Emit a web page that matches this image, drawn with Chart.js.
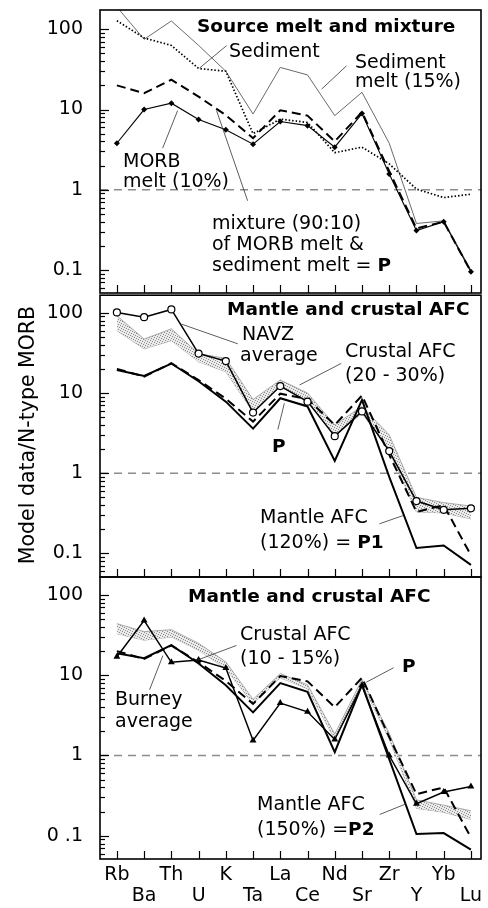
<!DOCTYPE html>
<html>
<head>
<meta charset="utf-8">
<script src="https://cdn.jsdelivr.net/npm/chart.js@4.4.0/dist/chart.umd.min.js"></script>
<style>
  body { margin: 0; background: #fff; width: 488px; height: 908px; position: relative; overflow: hidden; }
  canvas { position: absolute; left: 0; }
</style>
</head>
<body>
<canvas id="c1" style="top:0px" width="488" height="300"></canvas>
<canvas id="c2" style="top:290px" width="488" height="300"></canvas>
<canvas id="c3" style="top:570px" width="488" height="338"></canvas>
<script>
// element order along the x axis
const elements = ['Rb', 'Ba', 'Th', 'U', 'K', 'Ta', 'La', 'Ce', 'Nd', 'Sr', 'Zr', 'Y', 'Yb', 'Lu'];

// panel 1 - source melt and mixture
const sediment     = [190, 75, 127, 63, 30, 8.8, 33.5, 27, 8.4, 16.4, 3.8, 0.38, 0.41, 0.1];
const sedimentMelt = [128, 78, 63, 32.5, 30, 5.0, 7.6, 6.9, 2.9, 3.4, 2.1, 1.02, 0.8, 0.88];
const morbMelt     = [3.8, 10, 12, 7.5, 5.6, 3.7, 7.1, 6.3, 3.4, 8.9, 1.57, 0.31, 0.40, 0.095];
const mixtureP     = [20, 16, 23.5, 14.5, 8.5, 4.4, 9.8, 8.4, 4.0, 9.3, 1.7, 0.33, 0.4, 0.095];

// panel 2 - NAVZ
const navz       = [101, 88, 110, 31, 25, 5.7, 12.2, 7.8, 2.9, 5.9, 1.89, 0.45, 0.35, 0.365];
const crustHi20  = [92, 47, 63, 31, 27, 8.3, 14.5, 10, 4.0, 6.8, 3.0, 0.5, 0.43, 0.39];
const crustLo30  = [60, 35.5, 45, 24.5, 18.4, 5.8, 12, 8.2, 2.9, 5.6, 1.9, 0.33, 0.32, 0.27];
const mantleP1   = [19.3, 16.3, 23.3, 14, 7.8, 3.6, 8.6, 6.8, 1.42, 8.2, 0.9, 0.117, 0.126, 0.072];

// panel 3 - Burney
const burney     = [17, 48, 14.5, 15.5, 12.3, 1.54, 4.5, 3.5, 1.58, 7.5, 1.0, 0.25, 0.35, 0.41];
const crustHi10  = [44, 35, 37, 25, 14.7, 5.0, 10.5, 7.6, 1.85, 8.9, 1.9, 0.28, 0.24, 0.205];
const crustLo15  = [33, 27.4, 30, 20.5, 12.1, 4.4, 9.3, 6.8, 1.6, 7.9, 1.6, 0.22, 0.196, 0.16];
const mantleP2   = [18.8, 16.3, 23.7, 14, 7.5, 3.45, 8.0, 6.2, 1.1, 7.6, 0.9, 0.105, 0.108, 0.067];

const yTickValues = [0.1, 1, 10, 100];
const yTickLabels = ['0.1', '1', '10', '100'];
const yTickLabels3 = ['0 .1', '1', '10', '100'];

const FONT = '"DejaVu Sans", sans-serif';

// grey stipple used for the crustal AFC bands
function stipple() {
  const c = document.createElement('canvas');
  c.width = 5; c.height = 5;
  const g = c.getContext('2d');
  g.fillStyle = '#eaeaea';
  g.fillRect(0, 0, 5, 5);
  g.fillStyle = '#8c8c8c';
  [[0, 0], [2, 1], [4, 2], [1, 3], [3, 4]].forEach(([x, y]) => g.fillRect(x, y, 1, 1));
  return g.createPattern(c, 'repeat');
}
const bandFill = stipple();

const pts = arr => arr.map((v, i) => ({x: i, y: v}));

function line(data, extra) {
  return Object.assign({
    data: pts(data), borderColor: '#000', borderWidth: 1.5, pointRadius: 0,
    tension: 0, fill: false
  }, extra);
}

const decor = {
  id: 'decor',
  beforeDatasetsDraw(chart) {
    const {ctx, chartArea: a, scales: {y}} = chart;
    const py = y.getPixelForValue(1);
    ctx.save();
    ctx.strokeStyle = '#8c8c8c';
    ctx.lineWidth = 1.5;
    ctx.setLineDash([8, 6]);
    ctx.beginPath();
    ctx.moveTo(a.left, py); ctx.lineTo(a.right, py);
    ctx.stroke();
    ctx.restore();
  },
  afterDraw(chart, args, opts) {
    const {ctx, chartArea: a, scales: {x, y}} = chart;
    ctx.save();
    // inside ticks on the log axis
    ctx.strokeStyle = '#000';
    ctx.lineWidth = 1.2;
    for (let n = -2; n <= 2; n++) {
      for (let k = 1; k <= 9; k++) {
        const v = k * Math.pow(10, n);
        if (v < y.min || v > y.max) continue;
        const py = Math.round(y.getPixelForValue(v)) + 0.5;
        ctx.beginPath();
        ctx.moveTo(a.left, py); ctx.lineTo(a.left + (k === 1 ? 9 : 5), py);
        ctx.stroke();
      }
    }
    // inside ticks on the element axis
    elements.forEach((e, i) => {
      const px = Math.round(x.getPixelForValue(i)) + 0.5;
      ctx.beginPath();
      ctx.moveTo(px, a.bottom); ctx.lineTo(px, a.bottom - 8);
      ctx.stroke();
    });
    // frame
    ctx.lineWidth = 1.6;
    ctx.strokeRect(a.left, a.top, a.right - a.left, a.bottom - a.top);

    // leader lines, given in data space
    ctx.strokeStyle = '#333';
    ctx.lineWidth = 0.8;
    (opts.leaders || []).forEach(([i1, v1, i2, v2]) => {
      ctx.beginPath();
      ctx.moveTo(x.getPixelForValue(i1), y.getPixelForValue(v1));
      ctx.lineTo(x.getPixelForValue(i2), y.getPixelForValue(v2));
      ctx.stroke();
    });

    // labels, page coordinates
    const top = opts.top || 0;
    ctx.fillStyle = '#000';
    ctx.textBaseline = 'alphabetic';
    (opts.texts || []).forEach(t => {
      ctx.save();
      ctx.translate(t.x, t.y - top);
      if (t.rot) ctx.rotate(t.rot);
      const size = t.size || 19;
      const fontOf = b => (b ? 'bold ' + (size - 0.5) + 'px ' : size + 'px ') + FONT;
      let cx = 0;
      const parts = typeof t.s === 'string' ? [[t.s, t.b]] : t.s;
      if (t.center) {
        let w = 0;
        parts.forEach(([s, b]) => { ctx.font = fontOf(b); w += ctx.measureText(s).width; });
        cx = -w / 2;
      }
      parts.forEach(([s, b]) => {
        ctx.font = fontOf(b);
        ctx.fillText(s, cx, 0);
        cx += ctx.measureText(s).width;
      });
      ctx.restore();
    });
    ctx.restore();
  }
};

function makePanel(id, datasets, cfg) {
  return new Chart(document.getElementById(id), {
    type: 'line',
    data: {datasets},
    plugins: [decor],
    options: {
      responsive: false,
      animation: false,
      devicePixelRatio: 1,
      layout: {padding: cfg.padding},
      plugins: {
        legend: {display: false},
        tooltip: {enabled: false},
        decor: {texts: cfg.texts, leaders: cfg.leaders, top: cfg.top}
      },
      scales: {
        x: {
          type: 'linear', min: -0.62, max: 13.37,
          display: !!cfg.showX,
          afterBuildTicks: s => { s.ticks = elements.map((e, i) => ({value: i})); },
          afterFit: s => {
            if (cfg.showX) s.height = 49;
            s.paddingLeft = 0; s.paddingRight = 0;
          },
          grid: {display: false, drawTicks: false},
          border: {display: false},
          ticks: {
            autoSkip: false, maxRotation: 0, padding: 5, color: '#000',
            font: {family: FONT, size: 19, lineHeight: 1.12},
            callback: (v, i) => i % 2 === 0 ? [elements[i], ''] : ['', elements[i]]
          }
        },
        y: {
          type: 'logarithmic', min: cfg.ymin, max: cfg.ymax,
          afterBuildTicks: s => { s.ticks = yTickValues.map(v => ({value: v})); },
          afterFit: s => { s.width = 100; s.paddingTop = 0; s.paddingBottom = 0; },
          grid: {display: false, drawTicks: false},
          border: {display: false},
          ticks: {
            padding: 17, color: '#000',
            font: {family: FONT, size: 19},
            callback: (v, i) => cfg.yLabels[i]
          }
        }
      }
    }
  });
}

const dashedP = extra => line(mixtureP, Object.assign({borderWidth: 2, borderDash: [9, 5]}, extra));

makePanel('c1', [
  line(morbMelt, {borderWidth: 1.1, pointRadius: 3, pointStyle: 'rectRot', pointBackgroundColor: '#000', pointBorderWidth: 0}),
  dashedP(),
  line(sedimentMelt, {borderWidth: 1.7, borderDash: [1.5, 2]}),
  line(sediment, {borderColor: '#6a6a6a', borderWidth: 1})
], {
  padding: {top: 10, bottom: 7, left: 0, right: 7},
  ymin: 0.0517, ymax: 174, top: 0, yLabels: yTickLabels,
  leaders: [[3.04, 33, 4.03, 62.6], [8.43, 35, 7.52, 18], [2.23, 9.7, 1.68, 3.3], [3.66, 9.7, 4.8, 0.73]],
  texts: [
    {x: 197, y: 32, s: 'Source melt and mixture', b: true},
    {x: 229, y: 57, s: 'Sediment'},
    {x: 355, y: 68, s: 'Sediment'},
    {x: 355, y: 87, s: 'melt (15%)'},
    {x: 123, y: 167, s: 'MORB'},
    {x: 123, y: 187, s: 'melt (10%)'},
    {x: 212, y: 229, s: 'mixture (90:10)'},
    {x: 212, y: 250, s: 'of MORB melt &'},
    {x: 212, y: 271, s: [['sediment melt = ', false], ['P', true]]}
  ]
});

makePanel('c2', [
  line(navz, {borderWidth: 1.5, pointRadius: 3.5, pointStyle: 'circle', pointBackgroundColor: '#fff', pointBorderColor: '#000', pointBorderWidth: 1.2}),
  dashedP(),
  line(mantleP1, {borderWidth: 2}),
  line(crustHi20, {borderColor: '#999', borderWidth: 0.8, fill: '+1', backgroundColor: bandFill}),
  line(crustLo30, {borderColor: '#999', borderWidth: 0.8})
], {
  padding: {top: 3, bottom: 13, left: 0, right: 7},
  ymin: 0.0509, ymax: 165.5, top: 290, yLabels: yTickLabels,
  leaders: [[2.38, 72, 4.44, 41], [8.24, 23.4, 6.71, 12.6], [5.91, 3.5, 6.15, 7.45], [9.64, 0.234, 10.5, 0.296]],
  texts: [
    {x: 227, y: 315, s: 'Mantle and crustal AFC', b: true},
    {x: 242, y: 340, s: 'NAVZ'},
    {x: 240, y: 361, s: 'average'},
    {x: 345, y: 357, s: 'Crustal AFC'},
    {x: 345, y: 381, s: '(20 - 30%)'},
    {x: 272, y: 452, s: 'P', b: true},
    {x: 260, y: 523, s: 'Mantle AFC'},
    {x: 260, y: 548, s: [['(120%) = ', false], ['P1', true]]},
    {x: 34, y: 435, s: 'Model data/N-type MORB', rot: -Math.PI / 2, center: true, size: 20.5}
  ]
});

makePanel('c3', [
  line(burney, {borderWidth: 1.5, pointRadius: 4, pointStyle: 'triangle', pointBackgroundColor: '#000', pointBorderWidth: 0}),
  dashedP(),
  line(mantleP2, {borderWidth: 2}),
  line(crustHi10, {borderColor: '#999', borderWidth: 0.8, fill: '+1', backgroundColor: bandFill}),
  line(crustLo15, {borderColor: '#999', borderWidth: 0.8})
], {
  padding: {top: 7, bottom: 0, left: 0, right: 7},
  ymin: 0.0513, ymax: 167.7, top: 570, yLabels: yTickLabels3, showX: true,
  leaders: [[4.39, 23.5, 2.92, 15.3], [1.2, 6.6, 1.69, 17.6], [9.16, 8.2, 10.16, 12.4], [9.65, 0.184, 10.62, 0.25]],
  texts: [
    {x: 188, y: 602, s: 'Mantle and crustal AFC', b: true},
    {x: 240, y: 640, s: 'Crustal AFC'},
    {x: 240, y: 664, s: '(10 - 15%)'},
    {x: 402, y: 672, s: 'P', b: true},
    {x: 115, y: 705, s: 'Burney'},
    {x: 115, y: 727, s: 'average'},
    {x: 257, y: 810, s: 'Mantle AFC'},
    {x: 257, y: 835, s: [['(150%) =', false], ['P2', true]]}
  ]
});
</script>
</body>
</html>
